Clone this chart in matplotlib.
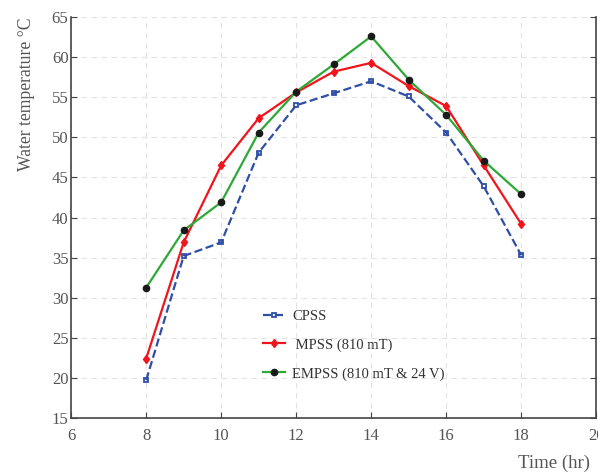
import matplotlib
matplotlib.use("Agg")
import matplotlib.pyplot as plt

plt.rcParams['font.family'] = ['Liberation Serif', 'DejaVu Serif']

hours = [8, 9, 10, 11, 12, 13, 14, 15, 16, 17, 18]
cpss = [19.7, 35.2, 36.9, 48.1, 54.0, 55.5, 57.0, 55.1, 50.6, 43.9, 35.3]
mpss = [22.4, 36.9, 46.5, 52.4, 55.6, 58.2, 59.3, 56.4, 53.9, 46.5, 39.2]
empss = [31.25, 38.4, 41.9, 50.6, 55.7, 59.1, 62.6, 57.2, 52.8, 47.1, 42.9]

fig = plt.figure(figsize=(5.98, 4.76), dpi=100)
ax = fig.add_axes([0.119, 0.122, 0.878, 0.842])

ax.plot(hours, cpss, '--s', color='#2f4fa6', lw=1.6, ms=3.5, mfc='none', mew=1.3, label='CPSS')
ax.plot(hours, mpss, '-d', color='#f0151c', lw=1.6, ms=4.5, label=' MPSS (810 mT)')
ax.plot(hours, empss, '-', color='#2ea836', lw=1.6, marker='o', ms=4.5, mfc='#1a1a1a', mec='#1a1a1a',
        label='EMPSS (810 mT & 24 V)')

ax.set_xlim(6, 20)
ax.set_ylim(15, 65)
ax.set_xticks(range(6, 21, 2))
ax.set_yticks(range(15, 66, 5))
ax.grid(True, ls=(0, (5, 4)), color='#e3e3e3', lw=0.8)
ax.set_axisbelow(True)

for s in ['left', 'bottom', 'right']:
    ax.spines[s].set_color('#444444')
    ax.spines[s].set_linewidth(1.2)
ax.spines['top'].set_visible(False)
ax.tick_params(direction='in', length=4, colors='#444444', labelcolor='#555555', labelsize=12,
               right=True, top=False)
ax.tick_params(axis='x', pad=7)
ax.tick_params(axis='y', pad=2)

ax.set_ylabel('Water temperature °C', fontsize=12.7, color='#555555', loc='top', labelpad=12)
ax.set_xlabel('Time (hr)', fontsize=13.5, color='#555555', loc='right', labelpad=8)
ax.xaxis.label.set_x(0.988)

ax.legend(loc='upper left', bbox_to_anchor=(0.366, 0.27), frameon=False, fontsize=10.5,
          borderpad=0, borderaxespad=0, labelspacing=1.05, handlelength=1.5, handletextpad=0.5,
          labelcolor='#333333')

fig.savefig('out.png', dpi=100)
